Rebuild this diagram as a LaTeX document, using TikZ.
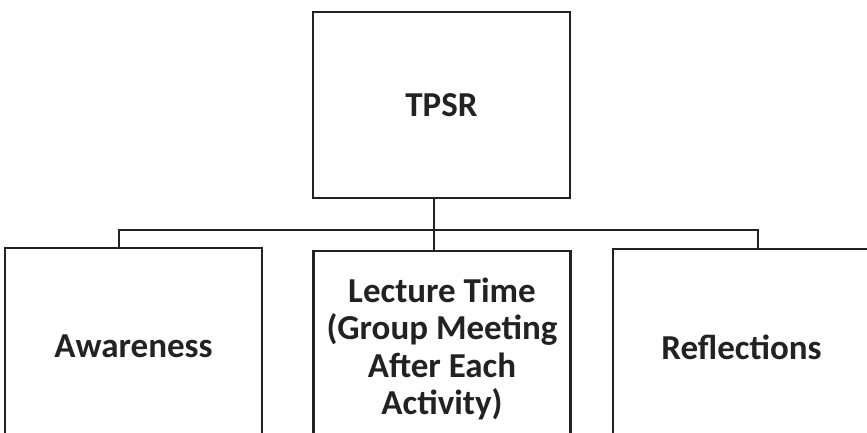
\documentclass[tikz,border=0pt]{standalone}
\usepackage{fontspec}
\setmainfont{Carlito}
\usepackage{tikz}
\usetikzlibrary{calc, positioning}

\definecolor{linegray}{HTML}{222222}

\begin{document}
\begin{tikzpicture}[x=0.5pt, y=-0.5pt,
    box/.style={draw=linegray, line width=1.1pt, minimum width=128.5pt,
        align=center, font=\bfseries\fontsize{17.5}{18.8}\selectfont,
        text=linegray, inner sep=0pt},
    link/.style={draw=linegray, line width=1.1pt}]
    % Khung hình
    \useasboundingbox (0,0) rectangle (867,433);
    \clip (0,0) rectangle (867,433);

    % Các ô
    \node[box, minimum height=93pt] (tpsr) at (441.5,105) {TPSR};
    \node[box, minimum height=98pt] (aware) at (133.5,346) {Awareness};
    \node[box, minimum height=98pt] (lecture) at (442,349)
        {Lecture Time\\(Group Meeting\\After Each\\Activity)};
    \node[box, minimum height=98pt] (refl) at (741.5,347) {Reflections};

    % Đường nối
    \coordinate (hub) at (434,230);
    \coordinate (busW) at (119,230);
    \coordinate (busE) at (758,230);
    \draw[link] (hub |- tpsr.south) -- (hub |- lecture.north);
    \draw[link] (busW |- aware.north) -- (busW) -- (busE) -- (busE |- refl.north);
\end{tikzpicture}
\end{document}
